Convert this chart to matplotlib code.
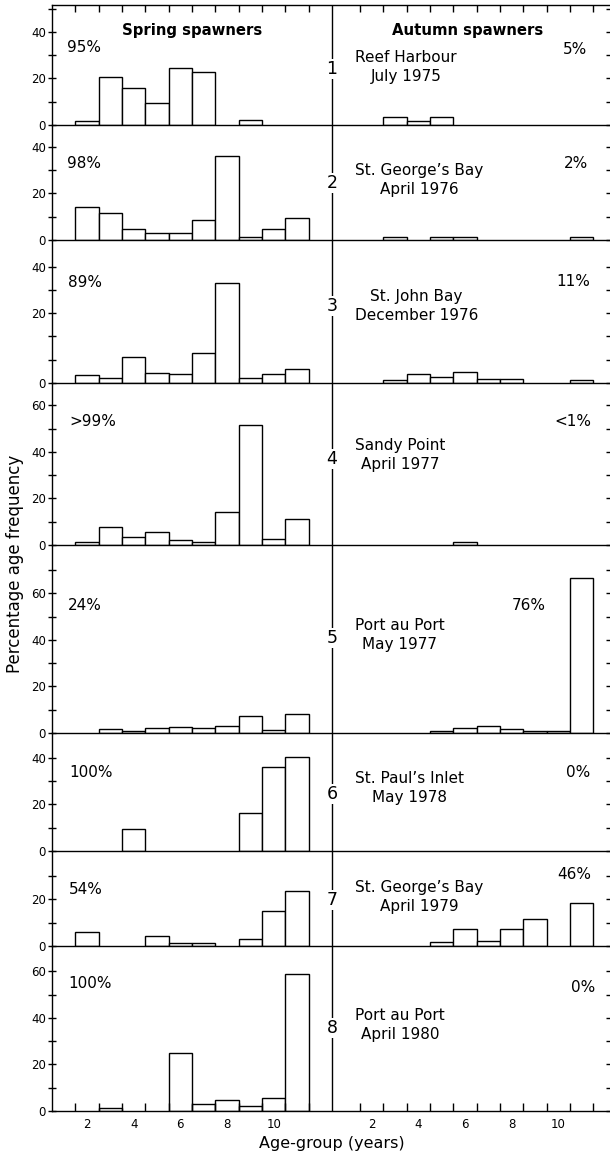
import matplotlib
matplotlib.use("Agg")
import matplotlib.pyplot as plt
import numpy as np

# age groups (years), same for both halves
ages = np.arange(2, 12)

sites = [
    "Reef Harbour\nJuly 1975",
    "St. George\u2019s Bay\nApril 1976",
    "St. John Bay\nDecember 1976",
    "Sandy Point\nApril 1977",
    "Port au Port\nMay 1977",
    "St. Paul\u2019s Inlet\nMay 1978",
    "St. George\u2019s Bay\nApril 1979",
    "Port au Port\nApril 1980",
]
spring_pct = ["95%", "98%", "89%", ">99%", "24%", "100%", "54%", "100%"]
autumn_pct = ["5%", "2%", "11%", "<1%", "76%", "0%", "46%", "0%"]

# percentage age frequency, ages 2..11
spring = [
    [1.9, 20.5, 16.0, 9.3, 24.6, 22.9, 0, 2.1, 0, 0],
    [14.0, 11.4, 4.9, 3.1, 3.1, 8.6, 36.0, 1.4, 4.9, 9.3],
    [3.4, 2.3, 11.0, 4.2, 3.9, 12.7, 42.8, 2.3, 3.7, 5.9],
    [1.4, 7.6, 3.6, 5.7, 2.1, 1.1, 14.0, 51.5, 2.4, 11.2],
    [0, 1.8, 0.9, 2.1, 2.7, 2.0, 3.0, 7.3, 1.3, 8.2],
    [0, 0, 9.4, 0, 0, 0, 0, 16.2, 35.9, 40.2],
    [6.1, 0, 0, 4.4, 1.4, 1.4, 0, 3.0, 15.0, 23.7],
    [0, 1.1, 0, 0, 24.8, 3.0, 4.7, 2.1, 5.4, 59.0],
]
autumn = [
    [0, 3.3, 1.7, 3.3, 0, 0, 0, 0, 0, 0],
    [0, 1.2, 0, 1.2, 1.2, 0, 0, 0, 0, 1.2],
    [0, 1.3, 3.7, 2.4, 4.9, 1.8, 1.8, 0, 0, 1.3],
    [0, 0, 0, 0, 1.3, 0, 0, 0, 0, 0],
    [0, 0, 0, 1.0, 2.0, 3.0, 1.6, 0.9, 1.0, 66.4],
    [0, 0, 0, 0, 0, 0, 0, 0, 0, 0],
    [0, 0, 0, 1.8, 7.2, 2.3, 7.4, 11.7, 0, 18.3],
    [0, 0, 0, 0, 0, 0, 0, 0, 0, 0],
]

# layout (pixels)
W, H = 610, 1153
panel_px = [5, 125, 240, 383, 545, 733, 851, 946, 1111]
px_per_unit = 2.33
left_px, right_px = 52, 610
px_per_year = 23.33
x0 = 0.5
xmax = x0 + (right_px - left_px) / px_per_year
mid = 12.5
offset = 12.2

num_y = [69, 183, 306, 459, 638, 794, 900, 1028]
site_y = [67, 180, 306, 455, 635, 788, 897, 1025]
lpct_y = [52, 168, 287, 426, 610, 777, 894, 988]
lpct_x = [67, 67, 68, 69, 68, 69, 69, 68]
rpct_y = [54, 168, 286, 426, 610, 777, 879, 992]
rpct_x = [587, 588, 590, 591, 546, 590, 591, 595]


def fx(px):
    return px / W


def fy(py):
    return 1 - py / H


fig = plt.figure(figsize=(W / 100, H / 100), dpi=100)
lw = 1.0

for i in range(8):
    top, bot = panel_px[i], panel_px[i + 1]
    ax = fig.add_axes([fx(left_px), fy(bot), fx(right_px) - fx(left_px), (bot - top) / H])
    ax.patch.set_visible(False)
    ymax = (bot - top) / px_per_unit
    ax.set_xlim(x0, xmax)
    ax.set_ylim(0, ymax)

    s = np.array(spring[i], dtype=float)
    a = np.array(autumn[i], dtype=float)
    ax.bar(ages[s > 0], s[s > 0], width=1.0, facecolor="white", edgecolor="black", linewidth=lw)
    ax.bar(ages[a > 0] + offset, a[a > 0], width=1.0, facecolor="white", edgecolor="black", linewidth=lw)
    ax.axvline(mid, color="black", lw=lw)

    for side in ["left", "bottom", "top"]:
        ax.spines[side].set_linewidth(lw)
    ax.spines["right"].set_visible(False)
    if i > 0:
        ax.spines["top"].set_visible(False)

    yt = np.arange(0, ymax - 1.5, 10)
    if i == 2:
        ylab = ["0", "", "", "20", "", "40"][:len(yt)]
    else:
        ylab = [str(int(v)) if v % 20 == 0 else "" for v in yt]
    ax.set_yticks(yt, labels=ylab)
    ax.tick_params(axis="y", left=True, right=True, direction="inout", length=6,
                   width=lw, labelsize=8.5, pad=1.5)

    edges = np.concatenate([np.arange(1.5, 12, 1), np.arange(1.5, 12, 1) + offset])
    if i == 0:
        ax.set_xticks(edges, labels=[""] * len(edges))
        ax.tick_params(axis="x", which="major", top=True, bottom=False, direction="in",
                       length=5, width=lw)
    elif i == 7:
        ax.set_xticks(edges, labels=[""] * len(edges))
        ax.tick_params(axis="x", which="major", top=False, bottom=True, direction="in",
                       length=6, width=lw)
        lab_pos = [2, 4, 6, 8, 10]
        ax.set_xticks(lab_pos + [p + offset for p in lab_pos],
                      labels=[str(p) for p in lab_pos] * 2, minor=True)
        ax.tick_params(axis="x", which="minor", length=0, pad=5, labelsize=8.5)
    else:
        ax.set_xticks([])

    fig.text(fx(332), fy(num_y[i]), str(i + 1), ha="center", va="center", fontsize=12.5,
             bbox=dict(facecolor="white", edgecolor="none", pad=1.0))
    fig.text(fx(355), fy(site_y[i]), sites[i], ha="left", va="center", multialignment="center",
             fontsize=11, linespacing=1.3)
    fig.text(fx(lpct_x[i]), fy(lpct_y[i]), spring_pct[i], ha="left", va="baseline", fontsize=11)
    fig.text(fx(rpct_x[i]), fy(rpct_y[i]), autumn_pct[i], ha="right", va="baseline", fontsize=11)

fig.text(fx(192), fy(35), "Spring spawners", ha="center", va="baseline", fontsize=10.7, fontweight="bold")
fig.text(fx(468), fy(35), "Autumn spawners", ha="center", va="baseline", fontsize=10.7, fontweight="bold")
fig.text(fx(332), fy(1148), "Age-group (years)", ha="center", va="baseline", fontsize=11.5)
fig.text(fx(15), fy(564), "Percentage age frequency", ha="center", va="center", rotation=90, fontsize=12)

fig.savefig("out.png", dpi=100)
